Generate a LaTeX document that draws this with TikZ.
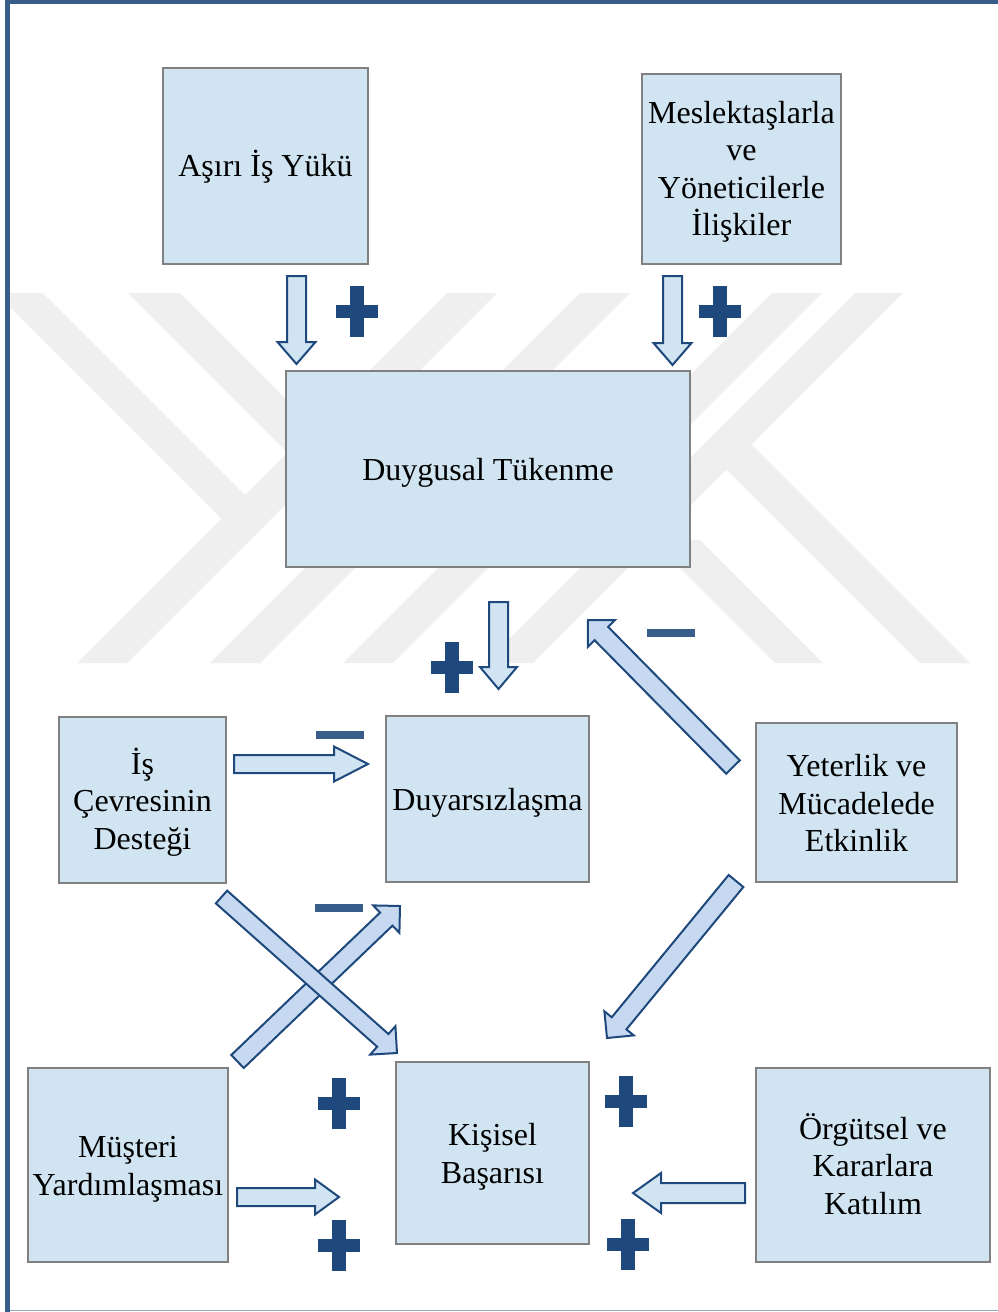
\documentclass[tikz,border=0pt]{standalone}
\usepackage{fontspec}
\setmainfont{Liberation Serif}
\usetikzlibrary{calc}

\definecolor{boxfill}{RGB}{208,228,242}
\definecolor{boxline}{RGB}{128,128,128}
\definecolor{arrline}{RGB}{31,73,125}
\definecolor{arrfill}{RGB}{208,228,242}
\definecolor{diagfill}{RGB}{198,217,241}
\definecolor{signblue}{RGB}{31,73,125}
\definecolor{minusblue}{RGB}{56,93,138}
\definecolor{framedark}{RGB}{56,93,138}
\definecolor{framelight}{RGB}{150,166,192}
\definecolor{wmgray}{RGB}{239,239,239}

% centred lines of box text, lowered by #1 without changing the box
\newcommand\boxtext[2][3pt]{%
  \raisebox{-#1}[\height][\depth]{\begin{tabular}{@{}c@{}}#2\end{tabular}}}

% block arrow: #1 style, #2 tail, #3 tip, #4 shaft half width, #5 head half width, #6 head length
\newcommand\blockarrow[6]{%
  \coordinate (bahead) at ($(#3)!#6!(#2)$);
  \draw[#1] ($(#2)!#4!90:(#3)$) -- ($(bahead)!#4!90:(#3)$) -- ($(bahead)!#5!90:(#3)$)
    -- (#3) -- ($(bahead)!#5!-90:(#3)$) -- ($(bahead)!#4!-90:(#3)$)
    -- ($(#2)!#4!-90:(#3)$) -- cycle;
}

\begin{document}
\begin{tikzpicture}[x=1pt,y=-1pt,
  box/.style={draw=boxline, line width=2.5pt, fill=boxfill, inner sep=0pt,
    font=\fontsize{32}{37.5}\selectfont},
  flatarrow/.style={draw=arrline, line width=2pt, fill=arrfill, line join=miter},
  diagarrow/.style={draw=arrline, line width=2pt, fill=diagfill, line join=miter},
  plusmark/.pic={\fill[signblue] (-21,-6.5) rectangle (21,6.5);
                 \fill[signblue] (-7,-25.5) rectangle (7,25.5);},
  minusmark/.pic={\fill[minusblue] (-24,-4) rectangle (24,4);}
]
\useasboundingbox (0,0) rectangle (998,1312);
\fill[white] (0,0) rectangle (998,1312);

% faint emblem in the background: diagonal stripes between y=293 and y=663
\begin{scope}
  \clip (10,293) rectangle (998,663);
  % left chevrons
  \fill[wmgray] (-4,293) -- (43,293) -- (270,520) -- (246.5,543.5) -- cycle;
  \fill[wmgray] (128,293) -- (180,293) -- (405,518) -- (379,544) -- cycle;
  \fill[wmgray] (447,293) -- (497,293) -- (127,663) -- (77,663) -- cycle;
  \fill[wmgray] (580,293) -- (630,293) -- (260,663) -- (210,663) -- cycle;
  % lower middle stripe
  \fill[wmgray] (439,567) -- (489,567) -- (393,663) -- (343,663) -- cycle;
  % right side
  \fill[wmgray] (855,293) -- (903,293) -- (533,663) -- (485,663) -- cycle;
  \fill[wmgray] (772,293) -- (822,293) -- (690,425) -- (690,375) -- cycle;
  \fill[wmgray] (727.5,420.5) -- (702.5,445.5) -- (920,663) -- (970,663) -- cycle;
  \fill[wmgray] (652,540) -- (700,540) -- (823,663) -- (775,663) -- cycle;
\end{scope}

% page frame
\fill[framedark] (5,0) rectangle (998,4);
\fill[framedark] (5,0) rectangle (10,1312);
\draw[framelight, line width=1.5pt] (10,1310.5) -- (998,1310.5);

% boxes
\node[box, minimum width=205pt, minimum height=196pt] (ayuk) at (265.5,166)
  {\boxtext[3pt]{Aşırı İş Yükü}};
\node[box, minimum width=199pt, minimum height=190pt] (mesl) at (741.5,169)
  {\boxtext{Meslektaşlarla\\ve\\Yöneticilerle\\İlişkiler}};
\node[box, minimum width=404pt, minimum height=196pt] (duyg) at (488,469)
  {\boxtext[4pt]{Duygusal Tükenme}};
\node[box, minimum width=167pt, minimum height=166pt] (isc) at (142.5,800)
  {\boxtext[4pt]{İş\\Çevresinin\\Desteği}};
\node[box, minimum width=203pt, minimum height=166pt] (duyr) at (487.5,799)
  {\boxtext[4pt]{Duyarsızlaşma}};
\node[box, minimum width=201pt, minimum height=159pt] (yet) at (856.5,802.5)
  {\boxtext[4pt]{Yeterlik ve\\Mücadelede\\Etkinlik}};
\node[box, minimum width=200pt, minimum height=194pt] (must) at (128,1165)
  {\boxtext[4pt]{Müşteri\\Yardımlaşması}};
\node[box, minimum width=193pt, minimum height=182pt] (kis) at (492.5,1153)
  {\boxtext[4pt]{Kişisel\\Başarısı}};
\node[box, minimum width=234pt, minimum height=194pt] (org) at (873,1165)
  {\boxtext[4pt]{Örgütsel ve\\Kararlara\\Katılım}};

% arrow ends
\coordinate (ayukOut) at (296.5,276);   \coordinate (duygInA) at (296.5,364);
\coordinate (meslOut) at (672.5,276);   \coordinate (duygInB) at (672.5,365);
\coordinate (duygOut) at (498.5,602);   \coordinate (duyrInA) at (498.5,689);
\coordinate (iscOut)  at (234,764);     \coordinate (duyrInB) at (368,764);
\coordinate (mustOut) at (237,1197);    \coordinate (kisInA)  at (339,1197);
\coordinate (orgOut)  at (745,1193);    \coordinate (kisInB)  at (633,1193);
\coordinate (yetOutA) at (733,767);     \coordinate (duygInC) at (588,620);
\coordinate (yetOutB) at (736,881);     \coordinate (kisInC)  at (607,1038);
\coordinate (iscOutB) at (221.5,897);   \coordinate (kisInD)  at (397,1053);
\coordinate (mustOutB) at (237.5,1061.5); \coordinate (duyrInC) at (400,906);

% straight block arrows
\blockarrow{flatarrow}{ayukOut}{duygInA}{9.5pt}{19pt}{22pt}
\blockarrow{flatarrow}{meslOut}{duygInB}{9.5pt}{19pt}{22pt}
\blockarrow{flatarrow}{duygOut}{duyrInA}{9.5pt}{18.5pt}{22pt}
\blockarrow{flatarrow}{iscOut}{duyrInB}{9pt}{17.5pt}{34pt}
\blockarrow{flatarrow}{mustOut}{kisInA}{9pt}{17.5pt}{24pt}
\blockarrow{flatarrow}{orgOut}{kisInB}{10pt}{20pt}{28pt}

% diagonal block arrows
\blockarrow{diagarrow}{yetOutA}{duygInC}{9.5pt}{19pt}{19pt}
\blockarrow{diagarrow}{yetOutB}{kisInC}{9.5pt}{19pt}{19pt}
\blockarrow{diagarrow}{mustOutB}{duyrInC}{9pt}{19pt}{19pt}
\blockarrow{diagarrow}{iscOutB}{kisInD}{8.5pt}{19pt}{19pt}

% signs
\pic at (357,311.5) {plusmark};
\pic at (719.5,311.5) {plusmark};
\pic at (451.5,667.5) {plusmark};
\pic at (339,1103) {plusmark};
\pic at (339,1245) {plusmark};
\pic at (625.5,1101) {plusmark};
\pic at (627.5,1244) {plusmark};
\pic at (671,633) {minusmark};
\pic at (339.5,735) {minusmark};
\pic at (339,907.5) {minusmark};
\end{tikzpicture}
\end{document}
